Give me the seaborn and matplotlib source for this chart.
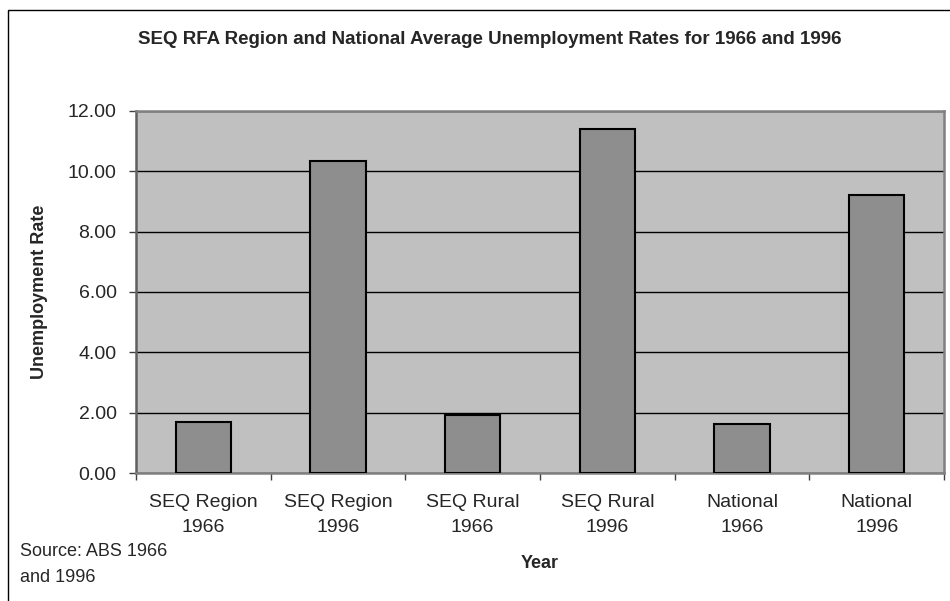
import numpy as np
import pandas as pd
import matplotlib
matplotlib.use("Agg")
import matplotlib.pyplot as plt
import seaborn as sns

# ---------------- DATA ----------------
categories = ["SEQ Region\n1966", "SEQ Region\n1996", "SEQ Rural\n1966",
              "SEQ Rural\n1996", "National\n1966", "National\n1996"]
rates = [1.68, 10.34, 1.91, 11.40, 1.63, 9.20]
y_ticks = [0, 2, 4, 6, 8, 10, 12]

df = pd.DataFrame({"group": categories, "rate": rates})

# ---------------- STYLE ----------------
sns.set_style("white")
plt.rcParams["font.family"] = ["Liberation Sans", "DejaVu Sans"]

fig = plt.figure(figsize=(9.5, 6.01), dpi=100)
ax = fig.add_axes([136 / 950, 128 / 601, 808 / 950, 362 / 601])
ax.set_facecolor("#C0C0C0")

sns.barplot(data=df, x="group", y="rate", color="#8E8E8E", saturation=1,
            edgecolor="black", linewidth=1.5, width=0.41, ax=ax, zorder=3)

# ---------------- AXES ----------------
ax.set_ylim(0, 12)
ax.set_xlim(-0.5, len(categories) - 0.5)
ax.set_yticks(y_ticks)
ax.set_yticklabels([f"{v:.2f}" for v in y_ticks], fontsize=14)
ax.yaxis.grid(True, color="black", linewidth=1)
ax.set_axisbelow(True)

ax.set_xticks(range(len(categories)))
ax.set_xticklabels(categories, fontsize=14, linespacing=1.6)
ax.set_xticks(np.arange(-0.5, len(categories)), minor=True)
ax.tick_params(axis="x", which="major", length=0, pad=15)
ax.tick_params(axis="x", which="minor", length=5, width=1, color="#404040",
               direction="out", bottom=True)
ax.tick_params(axis="y", length=5, width=1, color="#404040",
               direction="out", left=True, pad=9)

for side in ["top", "right", "bottom", "left"]:
    ax.spines[side].set_visible(True)
    ax.spines[side].set_color("#808080")
    ax.spines[side].set_linewidth(1.8)
ax.spines["left"].set_color("#606060")

ax.set_xlabel("Year", fontsize=13, fontweight="bold", labelpad=14)
ax.set_ylabel("Unemployment Rate", fontsize=13, fontweight="bold", labelpad=14)

fig.text(0.516, 1 - 40 / 601,
         "SEQ RFA Region and National Average Unemployment Rates for 1966 and 1996",
         ha="center", va="center", fontsize=13.5, fontweight="bold")
fig.text(20 / 950, 1 - 552 / 601, "Source: ABS 1966", ha="left", va="center", fontsize=13)
fig.text(20 / 950, 1 - 578 / 601, "and 1996", ha="left", va="center", fontsize=13)

# outer chart frame (right and bottom edges fall outside the image)
frame = plt.Rectangle((8 / 950, -0.05), 1.1, 1 - 10 / 601 + 0.05,
                      transform=fig.transFigure, fill=False,
                      edgecolor="black", linewidth=1)
fig.patches.append(frame)

fig.savefig("out.png", dpi=100)
